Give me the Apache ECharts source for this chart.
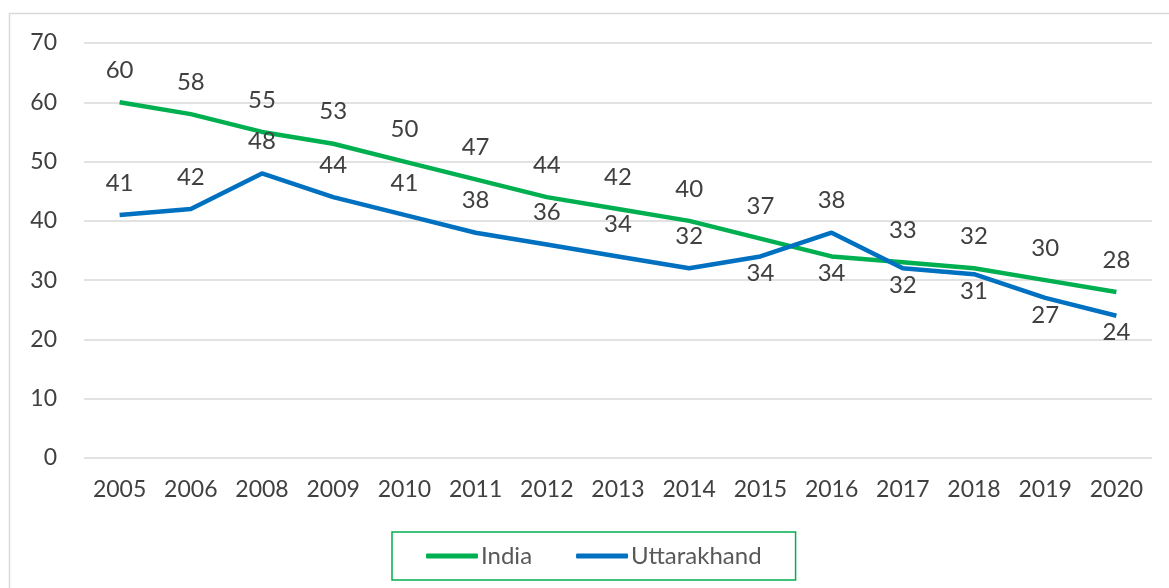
<!DOCTYPE html>
<html><head><meta charset="utf-8">
<script src="https://cdn.jsdelivr.net/npm/echarts@6/dist/echarts.min.js"></script>
<style>html,body{margin:0;padding:0;background:#fff}#c{width:1169px;height:588px}</style>
</head><body><div id="c"></div>
<script>
const categories = ['2005','2006','2008','2009','2010','2011','2012','2013','2014','2015','2016','2017','2018','2019','2020'];
const india = [60,58,55,53,50,47,44,42,40,37,34,33,32,30,28];
const uttarakhand = [41,42,48,44,41,38,36,34,32,34,38,32,31,27,24];
const yTicks = [0,10,20,30,40,50,60,70];

const FONT = 'Lato';
const TXT = '#404040';
// label below the line for the lower series where lines cross/near
const indiaBelow = new Set([10]);
const uttBelow = new Set([9,11,12,13,14]);

function mkData(vals, below){
  return vals.map((v,i)=>({
    value:v,
    label: below.has(i) ? {position:'bottom', distance:5} : {position:'top', distance:20}
  }));
}

const chart = echarts.init(document.getElementById('c'), null, {renderer:'canvas'});
chart.setOption({
  animation:false,
  backgroundColor:'#fff',
  graphic:[{type:'rect', shape:{x:9.5,y:13.5,width:1200,height:700}, style:{fill:'none',stroke:'#d9d9d9',lineWidth:1.5}, silent:true}],
  grid:{left:84,right:17,top:43,bottom:130,containLabel:false},
  legend:{
    bottom:8, left:392,
    data:['India','Uttarakhand'],
    itemWidth:52, itemHeight:5, itemGap:44,
    padding:[12,34,12,34],
    borderColor:'#00B050', borderWidth:1.5,
    textStyle:{fontFamily:FONT,fontSize:24,color:'#595959',padding:[0,0,0,-2]},
    icon:'roundRect'
  },
  xAxis:{
    type:'category', data:categories, boundaryGap:true,
    axisLine:{show:false}, axisTick:{show:false},
    axisLabel:{fontFamily:FONT,fontSize:23,color:TXT,margin:20,interval:0,hideOverlap:false}
  },
  yAxis:{
    type:'value', min:0, max:70, interval:10,
    axisLine:{show:false}, axisTick:{show:false},
    axisLabel:{fontFamily:FONT,fontSize:23,color:TXT,margin:27,formatter:v=>yTicks.includes(v)?String(v):''},
    splitLine:{lineStyle:{color:'#d9d9d9',width:1.5}}
  },
  series:[
    {name:'India', type:'line', data:mkData(india,indiaBelow), symbol:'circle', symbolSize:0.1, showSymbol:true,
     lineStyle:{color:'#00B050',width:4.5}, itemStyle:{color:'#00B050'},
     label:{show:true,fontFamily:FONT,fontSize:24,color:TXT}},
    {name:'Uttarakhand', type:'line', data:mkData(uttarakhand,uttBelow), symbol:'circle', symbolSize:0.1, showSymbol:true,
     lineStyle:{color:'#0070C0',width:4.5}, itemStyle:{color:'#0070C0'},
     label:{show:true,fontFamily:FONT,fontSize:24,color:TXT}}
  ]
});
</script></body></html>
